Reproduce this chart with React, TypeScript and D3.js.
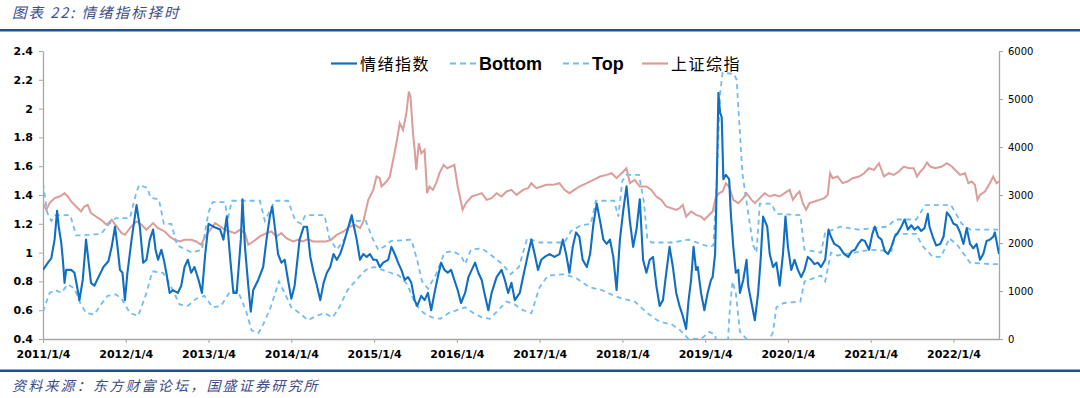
import React, { useRef, useEffect } from 'react';
import * as d3 from 'd3';

type Pt = [number, number];

// x values are fractional years (2011.0 = 2011/1/4)
const yearTicks = [2011, 2012, 2013, 2014, 2015, 2016, 2017, 2018, 2019, 2020, 2021, 2022];
const leftTicks = [0.4, 0.6, 0.8, 1, 1.2, 1.4, 1.6, 1.8, 2, 2.2, 2.4];
const rightTicks = [0, 1000, 2000, 3000, 4000, 5000, 6000];

const sentiment: Pt[] = [
  [2011.00,0.88],[2011.06,0.93],[2011.10,0.96],[2011.14,1.09],[2011.17,1.29],[2011.19,1.18],[2011.22,1.07],[2011.24,0.95],
  [2011.26,0.79],[2011.28,0.88],[2011.34,0.88],[2011.38,0.86],[2011.41,0.77],[2011.44,0.67],[2011.48,0.81],[2011.52,1.09],
  [2011.54,0.99],[2011.58,0.79],[2011.62,0.77],[2011.67,0.83],[2011.73,0.90],[2011.79,0.94],[2011.83,1.04],[2011.87,1.18],
  [2011.90,1.04],[2011.93,0.88],[2011.96,0.86],[2011.99,0.67],[2012.02,0.86],[2012.07,1.09],[2012.13,1.33],[2012.17,1.18],
  [2012.21,0.93],[2012.25,0.95],[2012.29,1.09],[2012.33,1.16],[2012.36,1.02],[2012.39,0.95],[2012.43,1.02],[2012.46,0.95],
  [2012.49,0.86],[2012.53,0.72],[2012.57,0.74],[2012.63,0.72],[2012.67,0.77],[2012.71,0.90],[2012.75,0.95],[2012.79,0.86],
  [2012.83,0.90],[2012.88,0.81],[2012.92,0.72],[2012.96,0.99],[2013.00,1.20],[2013.06,1.18],[2013.14,1.16],[2013.18,1.09],
  [2013.22,1.25],[2013.26,0.97],[2013.30,0.72],[2013.34,0.72],[2013.39,1.09],[2013.41,1.37],[2013.44,1.04],[2013.48,0.77],
  [2013.51,0.59],[2013.54,0.74],[2013.60,0.81],[2013.66,0.90],[2013.70,1.09],[2013.74,1.25],[2013.77,1.32],[2013.80,1.18],
  [2013.84,0.99],[2013.88,0.93],[2013.92,0.95],[2013.96,0.81],[2014.00,0.68],[2014.04,0.77],[2014.10,1.09],[2014.15,1.18],
  [2014.19,1.18],[2014.23,0.97],[2014.27,0.86],[2014.31,0.77],[2014.35,0.67],[2014.39,0.79],[2014.43,0.86],[2014.47,0.90],
  [2014.51,0.99],[2014.55,0.95],[2014.59,0.99],[2014.63,1.06],[2014.67,1.14],[2014.69,1.18],[2014.73,1.26],[2014.75,1.20],
  [2014.79,1.09],[2014.83,0.95],[2014.87,0.99],[2014.91,0.97],[2014.95,0.99],[2014.99,0.95],[2015.03,0.95],[2015.07,0.90],
  [2015.11,0.93],[2015.17,0.95],[2015.21,1.04],[2015.25,0.99],[2015.29,0.93],[2015.33,0.88],[2015.37,0.81],[2015.41,0.83],
  [2015.45,0.79],[2015.49,0.67],[2015.52,0.63],[2015.57,0.70],[2015.61,0.67],[2015.65,0.72],[2015.69,0.60],[2015.73,0.72],
  [2015.77,0.83],[2015.81,0.93],[2015.85,0.88],[2015.89,0.86],[2015.93,0.88],[2015.97,0.81],[2016.01,0.74],[2016.05,0.65],
  [2016.10,0.72],[2016.14,0.83],[2016.18,0.88],[2016.22,0.93],[2016.26,0.86],[2016.30,0.81],[2016.34,0.70],[2016.38,0.60],
  [2016.42,0.72],[2016.48,0.83],[2016.54,0.88],[2016.58,0.81],[2016.62,0.72],[2016.66,0.79],[2016.70,0.67],[2016.76,0.72],
  [2016.80,0.83],[2016.86,0.99],[2016.90,1.09],[2016.94,0.99],[2016.98,0.88],[2017.02,0.95],[2017.06,0.97],[2017.12,0.99],
  [2017.18,0.97],[2017.24,0.99],[2017.28,1.09],[2017.32,0.99],[2017.36,0.86],[2017.40,1.04],[2017.44,1.14],[2017.48,1.11],
  [2017.52,0.95],[2017.57,0.90],[2017.61,0.99],[2017.65,1.20],[2017.69,1.34],[2017.73,1.22],[2017.77,1.09],[2017.81,1.06],
  [2017.85,1.09],[2017.89,0.97],[2017.93,0.74],[2017.97,1.09],[2018.01,1.29],[2018.05,1.46],[2018.09,1.22],[2018.13,1.04],
  [2018.17,1.16],[2018.21,1.37],[2018.25,0.95],[2018.29,0.86],[2018.33,0.95],[2018.37,0.97],[2018.41,0.77],[2018.45,0.63],
  [2018.49,0.67],[2018.53,0.86],[2018.57,1.04],[2018.61,0.90],[2018.65,0.72],[2018.69,0.63],[2018.73,0.56],[2018.77,0.47],
  [2018.80,0.67],[2018.83,0.81],[2018.86,1.04],[2018.89,0.88],[2018.91,0.90],[2018.95,0.72],[2018.99,0.60],[2019.03,0.72],
  [2019.07,0.81],[2019.09,0.83],[2019.12,0.99],[2019.14,1.48],[2019.16,2.11],[2019.18,1.97],[2019.20,1.94],[2019.22,1.51],
  [2019.25,1.54],[2019.29,1.51],[2019.31,1.27],[2019.34,1.04],[2019.37,0.86],[2019.40,0.88],[2019.42,0.72],[2019.46,0.81],
  [2019.50,0.95],[2019.52,0.77],[2019.56,0.65],[2019.60,0.53],[2019.64,0.72],[2019.67,0.95],[2019.70,1.25],[2019.75,1.18],
  [2019.78,0.99],[2019.82,0.90],[2019.86,0.93],[2019.90,0.77],[2019.94,0.99],[2019.97,1.25],[2020.00,1.04],[2020.04,0.88],
  [2020.08,0.95],[2020.12,0.88],[2020.16,0.83],[2020.20,0.88],[2020.24,0.97],[2020.28,0.95],[2020.32,0.92],[2020.36,0.93],
  [2020.40,0.90],[2020.45,0.95],[2020.49,1.16],[2020.52,1.11],[2020.56,1.06],[2020.62,1.04],[2020.68,0.99],[2020.73,0.97],
  [2020.77,1.01],[2020.81,1.02],[2020.85,1.06],[2020.89,1.09],[2020.93,1.08],[2020.98,1.02],[2021.02,1.13],[2021.05,1.18],
  [2021.09,1.11],[2021.13,1.09],[2021.17,1.01],[2021.21,0.99],[2021.25,1.04],[2021.29,1.11],[2021.33,1.14],[2021.37,1.18],
  [2021.41,1.23],[2021.45,1.16],[2021.49,1.19],[2021.53,1.16],[2021.57,1.18],[2021.61,1.15],[2021.65,1.17],[2021.69,1.27],
  [2021.71,1.18],[2021.75,1.11],[2021.79,1.05],[2021.84,1.06],[2021.88,1.11],[2021.92,1.28],[2021.96,1.25],[2022.00,1.20],
  [2022.04,1.19],[2022.08,1.14],[2022.12,1.06],[2022.16,1.17],[2022.20,1.06],[2022.24,1.03],[2022.28,1.06],[2022.32,0.95],
  [2022.36,0.99],[2022.40,1.08],[2022.44,1.09],[2022.48,1.11],[2022.50,1.14],[2022.52,1.08],[2022.55,0.99],
];

const top: Pt[] = [
  [2011.00,1.48],[2011.05,1.28],[2011.10,1.22],[2011.15,1.26],[2011.33,1.26],[2011.40,1.12],[2011.48,1.12],[2011.70,1.13],
  [2011.80,1.20],[2011.88,1.24],[2012.05,1.24],[2012.12,1.40],[2012.16,1.47],[2012.26,1.45],[2012.30,1.38],[2012.40,1.37],
  [2012.46,1.20],[2012.55,1.20],[2012.62,1.05],[2012.80,1.00],[2012.92,1.02],[2013.00,1.28],[2013.05,1.35],[2013.20,1.35],
  [2013.23,1.22],[2013.28,1.36],[2013.62,1.36],[2013.68,1.22],[2013.75,1.30],[2013.80,1.36],[2013.96,1.36],[2014.05,1.22],
  [2014.12,1.20],[2014.17,1.26],[2014.40,1.26],[2014.46,1.10],[2014.55,1.02],[2014.65,1.10],[2014.72,1.22],[2014.90,1.22],
  [2014.98,1.10],[2015.05,1.02],[2015.15,1.05],[2015.20,1.08],[2015.45,1.09],[2015.52,0.95],[2015.58,0.80],[2015.65,0.75],
  [2015.75,0.85],[2015.85,1.00],[2015.95,1.01],[2016.05,0.98],[2016.10,0.92],[2016.17,1.02],[2016.30,1.03],[2016.42,0.98],
  [2016.55,0.92],[2016.65,0.85],[2016.75,0.90],[2016.85,1.10],[2017.00,1.07],[2017.30,1.07],[2017.38,1.15],[2017.50,1.19],
  [2017.62,1.20],[2017.68,1.36],[2017.90,1.36],[2017.95,1.25],[2018.00,1.50],[2018.05,1.54],[2018.20,1.54],[2018.26,1.35],
  [2018.30,1.10],[2018.35,1.07],[2018.60,1.07],[2018.80,1.09],[2018.95,1.06],[2019.05,1.04],[2019.10,1.05],[2019.14,1.50],
  [2019.18,2.10],[2019.21,2.25],[2019.35,2.24],[2019.38,2.20],[2019.45,1.55],[2019.50,1.35],[2019.58,1.05],[2019.62,1.00],
  [2019.66,1.34],[2019.80,1.34],[2019.86,1.27],[2020.15,1.26],[2020.20,1.02],[2020.40,1.00],[2020.45,1.14],[2020.55,1.16],
  [2020.63,1.18],[2020.85,1.16],[2021.20,1.18],[2021.30,1.23],[2021.55,1.23],[2021.66,1.33],[2021.97,1.33],[2022.10,1.20],
  [2022.20,1.16],[2022.55,1.16],
];

const bottom: Pt[] = [
  [2011.00,0.59],[2011.08,0.72],[2011.15,0.74],[2011.22,0.72],[2011.30,0.78],[2011.38,0.75],[2011.45,0.65],[2011.52,0.58],
  [2011.62,0.57],[2011.70,0.64],[2011.78,0.70],[2011.88,0.71],[2011.95,0.68],[2012.05,0.58],[2012.15,0.56],[2012.25,0.72],
  [2012.32,0.87],[2012.45,0.86],[2012.55,0.76],[2012.65,0.64],[2012.75,0.63],[2012.85,0.68],[2012.95,0.70],[2013.05,0.62],
  [2013.15,0.63],[2013.25,0.72],[2013.35,0.74],[2013.45,0.60],[2013.52,0.46],[2013.60,0.44],[2013.66,0.50],[2013.75,0.62],
  [2013.85,0.80],[2013.92,0.72],[2014.00,0.62],[2014.10,0.58],[2014.20,0.53],[2014.30,0.56],[2014.40,0.58],[2014.50,0.55],
  [2014.58,0.62],[2014.68,0.74],[2014.80,0.82],[2014.90,0.88],[2015.00,0.90],[2015.10,0.88],[2015.20,0.86],[2015.30,0.84],
  [2015.40,0.78],[2015.50,0.64],[2015.60,0.58],[2015.70,0.55],[2015.80,0.54],[2015.90,0.58],[2016.00,0.60],[2016.10,0.62],
  [2016.20,0.58],[2016.30,0.55],[2016.40,0.54],[2016.50,0.60],[2016.60,0.66],[2016.70,0.64],[2016.80,0.60],[2016.90,0.58],
  [2017.00,0.76],[2017.10,0.84],[2017.30,0.85],[2017.45,0.82],[2017.60,0.76],[2017.75,0.74],[2017.90,0.70],[2018.00,0.68],
  [2018.15,0.66],[2018.30,0.58],[2018.45,0.52],[2018.60,0.50],[2018.70,0.46],[2018.80,0.40],[2018.95,0.40],[2019.05,0.45],
  [2019.12,0.43],[2019.16,0.30],[2019.27,0.32],[2019.29,0.55],[2019.33,0.80],[2019.37,0.72],[2019.42,0.45],[2019.50,0.40],
  [2019.60,0.36],[2019.75,0.36],[2019.82,0.45],[2019.86,0.62],[2019.95,0.65],[2020.15,0.66],[2020.20,0.80],[2020.40,0.84],
  [2020.45,0.80],[2020.52,1.00],[2020.60,0.98],[2020.80,1.00],[2021.00,1.02],[2021.25,1.01],[2021.30,1.13],[2021.55,1.13],
  [2021.62,1.05],[2021.75,0.97],[2021.85,0.97],[2021.95,1.10],[2022.05,1.05],[2022.20,0.93],[2022.45,0.92],[2022.55,0.92],
];

const sse: Pt[] = [
  [2011.00,2830],[2011.04,2691],[2011.08,2830],[2011.14,2934],[2011.20,2969],[2011.26,3038],[2011.30,2969],[2011.34,2865],
  [2011.40,2760],[2011.46,2656],[2011.50,2760],[2011.54,2795],[2011.58,2622],[2011.64,2552],[2011.70,2483],[2011.77,2379],
  [2011.83,2483],[2011.89,2344],[2011.95,2206],[2011.99,2171],[2012.05,2310],[2012.13,2448],[2012.19,2379],[2012.25,2275],
  [2012.33,2414],[2012.39,2310],[2012.47,2240],[2012.53,2136],[2012.59,2067],[2012.65,2032],[2012.71,2067],[2012.79,2067],
  [2012.85,2032],[2012.91,1963],[2012.96,2136],[2013.02,2275],[2013.08,2414],[2013.14,2344],[2013.20,2275],[2013.26,2240],
  [2013.32,2206],[2013.38,2275],[2013.44,2206],[2013.48,1963],[2013.54,2032],[2013.62,2136],[2013.70,2206],[2013.76,2240],
  [2013.82,2136],[2013.88,2206],[2013.94,2102],[2014.02,2032],[2014.08,2067],[2014.14,2032],[2014.20,2081],[2014.26,2032],
  [2014.34,2032],[2014.42,2032],[2014.48,2067],[2014.55,2171],[2014.63,2240],[2014.71,2344],[2014.77,2379],[2014.83,2310],
  [2014.87,2448],[2014.93,2899],[2014.99,3107],[2015.03,3385],[2015.07,3350],[2015.09,3177],[2015.15,3281],[2015.19,3385],
  [2015.23,3732],[2015.27,4078],[2015.31,4494],[2015.35,4356],[2015.39,4703],[2015.42,5154],[2015.44,5049],[2015.47,4286],
  [2015.49,3940],[2015.51,3524],[2015.54,4078],[2015.57,3870],[2015.61,3940],[2015.64,3038],[2015.67,3177],[2015.71,3107],
  [2015.75,3246],[2015.79,3454],[2015.84,3628],[2015.88,3558],[2015.93,3593],[2015.97,3628],[2016.01,3177],[2016.07,2691],
  [2016.11,2830],[2016.18,2969],[2016.24,3003],[2016.30,3038],[2016.36,2899],[2016.42,2934],[2016.48,3038],[2016.54,2969],
  [2016.60,3073],[2016.66,3107],[2016.72,3003],[2016.80,3107],[2016.86,3142],[2016.90,3246],[2016.96,3142],[2017.02,3177],
  [2017.08,3211],[2017.16,3211],[2017.24,3246],[2017.30,3107],[2017.36,3038],[2017.42,3107],[2017.48,3177],[2017.57,3246],
  [2017.65,3315],[2017.73,3385],[2017.81,3419],[2017.87,3454],[2017.93,3350],[2017.99,3454],[2018.05,3558],[2018.09,3246],
  [2018.15,3315],[2018.21,3177],[2018.29,3177],[2018.35,3107],[2018.41,2969],[2018.47,2899],[2018.53,2760],[2018.59,2726],
  [2018.65,2691],[2018.69,2726],[2018.73,2795],[2018.77,2552],[2018.83,2656],[2018.89,2587],[2018.95,2552],[2018.99,2483],
  [2019.05,2587],[2019.09,2656],[2019.13,2969],[2019.17,3038],[2019.21,3073],[2019.25,3246],[2019.29,3177],[2019.34,2899],
  [2019.40,2830],[2019.46,2934],[2019.50,3038],[2019.56,2899],[2019.60,2830],[2019.66,2934],[2019.72,3038],[2019.78,2969],
  [2019.84,3003],[2019.90,2969],[2019.96,3038],[2020.02,3107],[2020.06,2899],[2020.10,3003],[2020.14,3073],[2020.18,2830],
  [2020.22,2691],[2020.26,2830],[2020.32,2865],[2020.38,2899],[2020.44,2934],[2020.48,3003],[2020.51,3454],[2020.54,3350],
  [2020.60,3385],[2020.66,3246],[2020.72,3281],[2020.78,3350],[2020.86,3385],[2020.92,3454],[2020.98,3558],[2021.04,3524],
  [2021.10,3662],[2021.16,3385],[2021.22,3454],[2021.28,3419],[2021.34,3489],[2021.40,3593],[2021.46,3558],[2021.52,3558],
  [2021.56,3385],[2021.60,3489],[2021.64,3558],[2021.68,3676],[2021.72,3593],[2021.78,3558],[2021.86,3593],[2021.92,3662],
  [2021.98,3593],[2022.04,3489],[2022.08,3419],[2022.14,3454],[2022.18,3246],[2022.22,3281],[2022.26,3211],[2022.29,2899],
  [2022.32,3003],[2022.38,3073],[2022.44,3246],[2022.48,3385],[2022.52,3246],[2022.55,3280],
];

const W = 1080;
const H = 398;
const plot = { left: 43, right: 999, top: 51, bottom: 339 };

const App: React.FC = () => {
  const svgRef = useRef<SVGSVGElement | null>(null);

  useEffect(() => {
    if (!svgRef.current) return;
    document.body.style.margin = '0';
    const svg = d3.select(svgRef.current);
    svg.selectAll('*').remove();

    const x = d3.scaleLinear().domain([2011, 2022.55]).range([plot.left, plot.right]);
    const yL = d3.scaleLinear().domain([0.4, 2.4]).range([plot.bottom, plot.top]);
    const yR = d3.scaleLinear().domain([0, 6000]).range([plot.bottom, plot.top]);

    const axisFont = 'DejaVu Sans, Verdana, sans-serif';
    const cjk = '"Noto Sans CJK SC", sans-serif';

    // title + rules
    svg.append('text')
      .attr('x', 12).attr('y', 18)
      .attr('font-family', cjk).attr('font-size', 14.5).attr('font-style', 'italic')
      .attr('letter-spacing', 2)
      .attr('fill', '#3d4c8a')
      .text('图表 22:  情绪指标择时');
    svg.append('rect').attr('x', 0).attr('y', 29).attr('width', W).attr('height', 2.5).attr('fill', '#1d4e9e');
    svg.append('rect').attr('x', 0).attr('y', 369.5).attr('width', W).attr('height', 2.5).attr('fill', '#1d4e9e');
    svg.append('text')
      .attr('x', 12).attr('y', 391)
      .attr('font-family', cjk).attr('font-size', 14).attr('font-style', 'italic')
      .attr('letter-spacing', 2.2)
      .attr('fill', '#3d4c8a')
      .text('资料来源：东方财富论坛，国盛证券研究所');

    svg.append('defs').append('clipPath').attr('id', 'plotclip')
      .append('rect')
      .attr('x', plot.left).attr('y', plot.top)
      .attr('width', plot.right - plot.left).attr('height', plot.bottom - plot.top);

    // axes
    const gx = svg.append('g')
      .attr('transform', `translate(0,${plot.bottom})`)
      .call(d3.axisBottom(x).tickValues(yearTicks).tickFormat(d => `${d}/1/4`).tickSize(4).tickPadding(7).tickSizeOuter(0));
    gx.selectAll('text').attr('font-family', axisFont).attr('font-size', 11).attr('font-weight', 'bold').attr('fill', '#000');

    const gl = svg.append('g')
      .attr('transform', `translate(${plot.left},0)`)
      .call(d3.axisLeft(yL).tickValues(leftTicks).tickFormat(d => String(d)).tickSize(4).tickPadding(6).tickSizeOuter(0));
    gl.selectAll('text').attr('font-family', axisFont).attr('font-size', 11).attr('font-weight', 'bold').attr('fill', '#000');

    const gr = svg.append('g')
      .attr('transform', `translate(${plot.right},0)`)
      .call(d3.axisRight(yR).tickValues(rightTicks).tickFormat(d => String(d)).tickSize(4).tickPadding(5).tickSizeOuter(0));
    gr.selectAll('text').attr('font-family', axisFont).attr('font-size', 10).attr('fill', '#000');

    [gx, gl, gr].forEach(g => {
      g.select('.domain').attr('stroke', '#a6a6a6').attr('stroke-width', 1.3);
      g.selectAll('.tick line').attr('stroke', '#a6a6a6');
    });

    const lines = svg.append('g').attr('clip-path', 'url(#plotclip)');
    const lineL = d3.line<Pt>().x(d => x(d[0])).y(d => yL(d[1]));
    const lineR = d3.line<Pt>().x(d => x(d[0])).y(d => yR(d[1]));

    lines.append('path').datum(sse).attr('d', lineR)
      .attr('fill', 'none').attr('stroke', '#dc9c97').attr('stroke-width', 2);
    [bottom, top].forEach(s => {
      lines.append('path').datum(s).attr('d', lineL)
        .attr('fill', 'none').attr('stroke', '#70bdf4').attr('stroke-width', 1.8)
        .attr('stroke-dasharray', '5,4');
    });
    lines.append('path').datum(sentiment).attr('d', lineL)
      .attr('fill', 'none').attr('stroke', '#106fc2').attr('stroke-width', 2.1)
      .attr('stroke-linejoin', 'round');

    // legend
    const legend = svg.append('g');
    legend.append('rect').attr('x', 326).attr('y', 52).attr('width', 422).attr('height', 20).attr('fill', '#fff');
    const items = [
      { name: '情绪指数', x: 331, color: '#106fc2', dash: null, font: cjk, weight: 'normal', size: 16 },
      { name: 'Bottom', x: 450, color: '#70bdf4', dash: '6,4', font: 'Liberation Sans, Arial, sans-serif', weight: 'bold', size: 18 },
      { name: 'Top', x: 563, color: '#70bdf4', dash: '6,4', font: 'Liberation Sans, Arial, sans-serif', weight: 'bold', size: 18 },
      { name: '上证综指', x: 642, color: '#dc9c97', dash: null, font: cjk, weight: 'normal', size: 16 },
    ];
    items.forEach(it => {
      legend.append('line')
        .attr('x1', it.x).attr('x2', it.x + 26).attr('y1', 63.5).attr('y2', 63.5)
        .attr('stroke', it.color).attr('stroke-width', 2.2)
        .attr('stroke-dasharray', it.dash);
      legend.append('text')
        .attr('x', it.x + 29).attr('y', 69.5)
        .attr('font-family', it.font).attr('font-size', it.size).attr('font-weight', it.weight)
        .attr('letter-spacing', it.font === cjk ? 1.5 : 0)
        .attr('fill', '#000')
        .text(it.name);
    });
  }, []);

  return (
    <svg ref={svgRef} width={W} height={H}
      style={{ display: 'block', position: 'absolute', left: 0, top: 0, background: '#fff' }} />
  );
};

export default App;
